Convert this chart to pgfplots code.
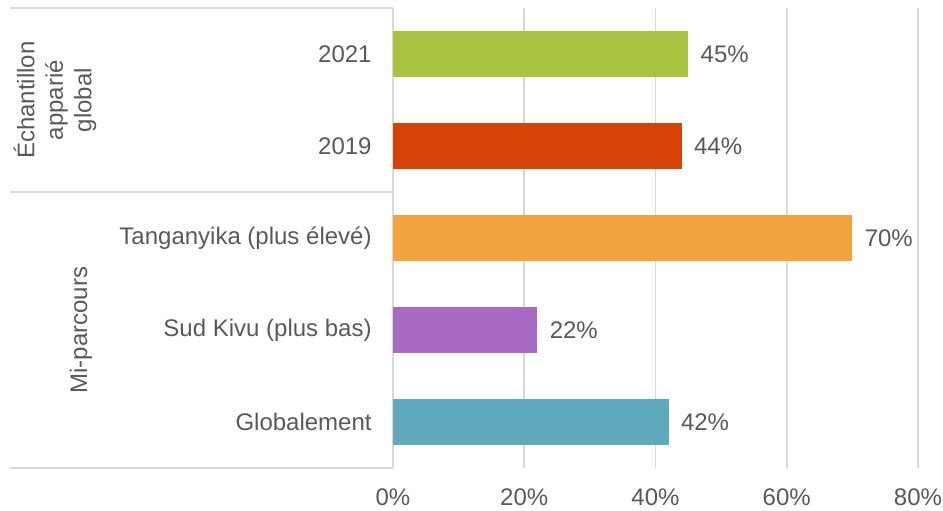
\documentclass[border=0pt]{standalone}
\usepackage{fontspec}
\setmainfont{Liberation Sans}
\usepackage{pgfplots}
\pgfplotsset{compat=1.18}
\definecolor{txt}{HTML}{595959}
\definecolor{gridc}{HTML}{D9D9D9}
\definecolor{cgreen}{HTML}{A9C23F}
\definecolor{cred}{HTML}{D64306}
\definecolor{corange}{HTML}{F3A240}
\definecolor{cpurple}{HTML}{A86AC2}
\definecolor{cteal}{HTML}{5FA8BE}
\begin{document}
\begin{tikzpicture}
\begin{axis}[
  scale only axis, width=262.5pt, height=230pt,
  xbar, bar width=0.5,
  xmin=0, xmax=80, ymin=-0.5, ymax=4.5,
  xtick={0,20,40,60,80},
  xticklabels={0\%,20\%,40\%,60\%,80\%},
  ytick={0,1,2,3,4},
  yticklabels={Globalement, Sud Kivu (plus bas), Tanganyika (plus élevé), 2019, 2021},
  major tick length=0pt,
  axis line style={draw=none},
  xmajorgrids, major grid style={draw=gridc, line width=0.8pt},
  tick label style={font=\fontsize{12}{14}\selectfont, text=txt, inner sep=0pt},
  yticklabel style={anchor=east, xshift=-10.5pt},
  xticklabel style={anchor=north, yshift=-10pt},
  nodes near coords={\pgfmathprintnumber[assume math mode=true]{\pgfplotspointmeta}\%},
  nodes near coords style={font=\fontsize{12}{14}\selectfont, text=txt, anchor=west, inner sep=0pt, xshift=6pt},
  clip=false,
]
\addplot[fill=cteal, draw=none, bar shift=0pt] coordinates {(42,0)};
\addplot[fill=cpurple, draw=none, bar shift=0pt] coordinates {(22,1)};
\addplot[fill=corange, draw=none, bar shift=0pt] coordinates {(70,2)};
\addplot[fill=cred, draw=none, bar shift=0pt] coordinates {(44,3)};
\addplot[fill=cgreen, draw=none, bar shift=0pt] coordinates {(45,4)};
% category separators
\draw[gridc, line width=0.8pt] (axis cs:0,4.5) -- ([xshift=-191.5pt]axis cs:0,4.5);
\draw[gridc, line width=0.8pt] (axis cs:0,2.5) -- ([xshift=-191.5pt]axis cs:0,2.5);
\draw[gridc, line width=0.8pt] (axis cs:0,-0.5) -- ([xshift=-191.5pt]axis cs:0,-0.5);
% group labels
\node[rotate=90, align=center, text=txt, font=\fontsize{12}{14.25}\selectfont]
  at ([xshift=-169pt]axis cs:0,3.5) {Échantillon\\apparié\\global};
\node[rotate=90, text=txt, font=\fontsize{12}{14}\selectfont]
  at ([xshift=-156pt]axis cs:0,1) {Mi-parcours};
% page frame
\path ([xshift=-196.5pt,yshift=-21pt]rel axis cs:0,0) rectangle ([xshift=275pt,yshift=234pt]rel axis cs:0,0);
\end{axis}
\end{tikzpicture}
\end{document}
